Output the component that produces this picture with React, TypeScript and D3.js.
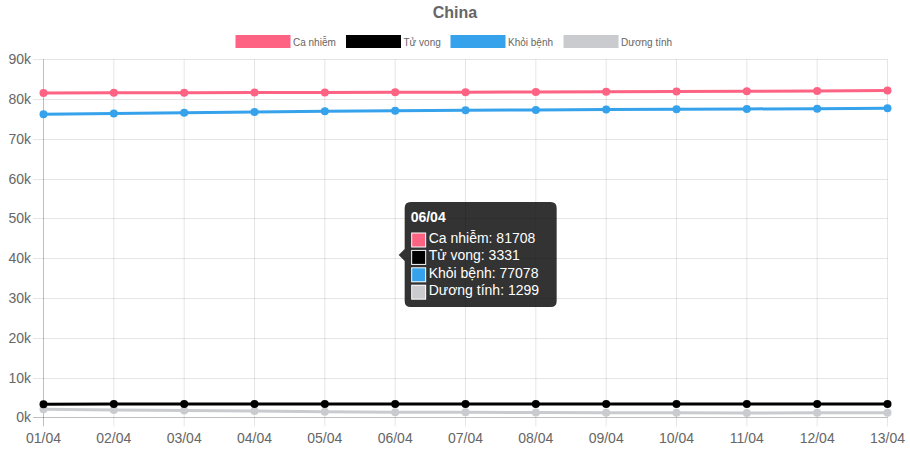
import React from 'react';
import * as d3 from 'd3';

const labels = ['01/04', '02/04', '03/04', '04/04', '05/04', '06/04', '07/04', '08/04', '09/04', '10/04', '11/04', '12/04', '13/04'];
const caNhiem = [81554, 81589, 81620, 81639, 81669, 81708, 81740, 81802, 81865, 81907, 81953, 82052, 82160];
const tuVong = [3312, 3318, 3322, 3326, 3329, 3331, 3331, 3333, 3335, 3336, 3339, 3339, 3341];
const khoiBenh = [76206, 76405, 76565, 76760, 76946, 77078, 77167, 77279, 77370, 77455, 77525, 77575, 77663];
const duongTinh = [2036, 1866, 1733, 1553, 1394, 1299, 1242, 1190, 1160, 1116, 1089, 1138, 1156];
const yTicks = [0, 10000, 20000, 30000, 40000, 50000, 60000, 70000, 80000, 90000];
const tooltipIndex = 5;

const series = [
  { name: 'Ca nhiễm', values: caNhiem, color: '#ff6384' },
  { name: 'Tử vong', values: tuVong, color: '#000000' },
  { name: 'Khỏi bệnh', values: khoiBenh, color: '#36a2eb' },
  { name: 'Dương tính', values: duongTinh, color: '#c9cbcf' },
];

const W = 910, H = 455;
const left = 43.5, right = 887.5, top = 59.3, bottom = 417.3;
const FONT = 'Liberation Sans, Arial, Helvetica, sans-serif';

export default function App() {
  const x = d3.scalePoint<string>().domain(labels).range([left, right]);
  const y = d3.scaleLinear().domain([0, 90000]).range([bottom, top]);
  const line = d3.line<number>().x((_, i) => x(labels[i]) as number).y(d => y(d));

  const legendBoxes = [236, 346.5, 451, 564];

  const tx = x(labels[tooltipIndex]) as number;
  const boxL = tx + 9.5, boxT = 202, boxW = 152, boxH = 105;
  const caretY = 255;

  return (
    <svg width={W} height={H} style={{ position: 'absolute', left: 0, top: 0, fontFamily: FONT }}>
      <rect width={W} height={H} fill="#fff" />
      <text x={455} y={18} textAnchor="middle" fontSize={16} fontWeight="bold" fill="#666">China</text>
      {series.map((s, i) => (
        <g key={s.name}>
          <rect x={legendBoxes[i]} y={35.5} width={54} height={12} fill={s.color} stroke={s.color} strokeWidth={1} />
          <text x={legendBoxes[i] + 57} y={45.5} fontSize={10} fill="#666">{s.name}</text>
        </g>
      ))}
      {yTicks.map(t => (
        <g key={t}>
          <line x1={33} x2={right} y1={Math.round(y(t)) + 0.5} y2={Math.round(y(t)) + 0.5} stroke={t === 0 ? 'rgba(0,0,0,0.25)' : 'rgba(0,0,0,0.1)'} />
          <text x={31} y={y(t) + 5} textAnchor="end" fontSize={14} fill="#666">{t / 1000 + 'k'}</text>
        </g>
      ))}
      {labels.map((l, i) => (
        <g key={l}>
          <line x1={x(l)} x2={x(l)} y1={top} y2={bottom + 9} stroke={i === 0 ? 'rgba(0,0,0,0.25)' : 'rgba(0,0,0,0.1)'} />
          <text x={x(l)} y={443} textAnchor="middle" fontSize={14} fill="#666">{l}</text>
        </g>
      ))}
      {[...series].reverse().map(s => (
        <g key={s.name}>
          <path d={line(s.values) || ''} fill="none" stroke={s.color} strokeWidth={3} />
          {s.values.map((v, i) => (
            <circle key={i} cx={x(labels[i])} cy={y(v)} r={4} fill={s.color} />
          ))}
        </g>
      ))}
      <g>
        <path
          d={`M${boxL + 6},${boxT} H${boxL + boxW - 6} Q${boxL + boxW},${boxT} ${boxL + boxW},${boxT + 6} V${boxT + boxH - 6} Q${boxL + boxW},${boxT + boxH} ${boxL + boxW - 6},${boxT + boxH} H${boxL + 6} Q${boxL},${boxT + boxH} ${boxL},${boxT + boxH - 6} V${caretY + 6} L${boxL - 6},${caretY} L${boxL},${caretY - 6} V${boxT + 6} Q${boxL},${boxT} ${boxL + 6},${boxT} Z`}
          fill="rgba(0,0,0,0.8)"
        />
        <text x={boxL + 6} y={221.5} fontSize={14} fontWeight="bold" fill="#fff">{labels[tooltipIndex]}</text>
        {series.map((s, i) => (
          <g key={s.name}>
            <rect x={boxL + 6.5} y={232.5 + i * 17.4} width={15} height={15} fill="#fff" />
            <rect x={boxL + 7.5} y={233.5 + i * 17.4} width={13} height={13} fill={s.color} />
            <text x={boxL + 24} y={243 + i * 17.4} fontSize={14} fill="#fff">{`${s.name}: ${s.values[tooltipIndex]}`}</text>
          </g>
        ))}
      </g>
    </svg>
  );
}
